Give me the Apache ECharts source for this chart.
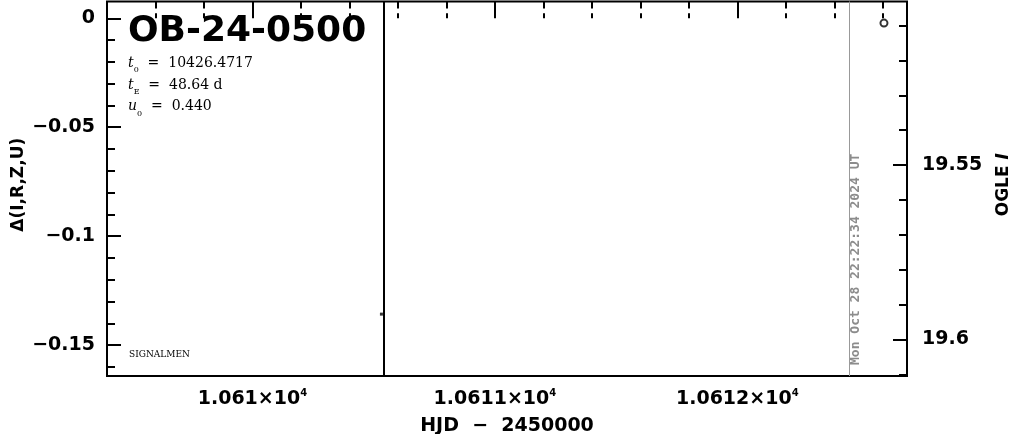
<!DOCTYPE html>
<html><head><meta charset="utf-8">
<script src="https://cdn.jsdelivr.net/npm/echarts@6/dist/echarts.min.js"></script>
<style>html,body{margin:0;padding:0;background:#fff}#c{width:1011px;height:434px}</style>
</head><body><div id="c"></div>
<script>
// ---- texts ----
const eventName = 'OB-24-0500';
const t0Text = '10426.4717';
const tEText = '48.64 d';
const u0Text = '0.440';
const stampText = 'Mon Oct 28 22:22:34 2024 UT';
const creditText = 'SIGNALMEN';
const xName = 'HJD  \u2212  2450000';
const leftName = '\u0394(I,R,Z,U)';

// ---- axis ranges and ticks ----
const xRange = [10609.4, 10612.7];
const leftRange = [-0.1642, 0.0077];
const rightRange = [19.5031, 19.6105];
const xMajorTicks = [10610, 10611, 10612];
const xMinorTicks = [10609.6, 10609.8, 10610.2, 10610.4, 10610.6, 10610.8, 10611.2, 10611.4, 10611.6, 10611.8, 10612.2, 10612.4, 10612.6];
const leftMajorTicks = [0, -0.05, -0.1, -0.15];
const leftMinorTicks = [-0.01, -0.02, -0.03, -0.04, -0.06, -0.07, -0.08, -0.09, -0.11, -0.12, -0.13, -0.14, -0.16];
const rightMajorTicks = [19.55, 19.6];
const rightMinorTicks = [19.51, 19.52, 19.53, 19.54, 19.56, 19.57, 19.58, 19.59, 19.61];

// ---- data ----
const obsHJD = [10612.605];
const obsDelta = [-0.0022];
const markHJD = [10610.532];
const markDelta = [-0.1358];
const nowLineHJD = 10610.539;
const stampLineHJD = 10612.456;

const F = 'DejaVu Sans';
const tickLine = {color: '#000', width: 2};
const labelFont = {fontFamily: F, fontWeight: 'bold', fontSize: 19, color: '#000'};

function xAx(pos, ticks, len, withLabels) {
  return {
    type: 'value', position: pos, min: xRange[0], max: xRange[1],
    axisLine: {show: false}, splitLine: {show: false},
    axisTick: {show: true, inside: true, length: len, lineStyle: tickLine, customValues: ticks},
    axisLabel: withLabels ? {
      show: true, customValues: ticks, margin: 12,
      formatter: v => String(v / 1e4) + '\u00d710{s|4}',
      fontFamily: F, fontWeight: 'bold', fontSize: 19, color: '#000', lineHeight: 22,
      rich: {s: {fontFamily: F, fontWeight: 'bold', fontSize: 10, lineHeight: 15, verticalAlign: 'top', color: '#000'}}
    } : {show: false}
  };
}
function yAx(pos, ticks, len, range, inverse, labelFmt, margin) {
  return {
    type: 'value', position: pos, min: range[0], max: range[1], inverse: inverse,
    axisLine: {show: false}, splitLine: {show: false},
    axisTick: {show: true, inside: true, length: len, lineStyle: tickLine, customValues: ticks},
    axisLabel: labelFmt ? Object.assign({show: true, customValues: ticks, margin: margin, formatter: labelFmt}, labelFont) : {show: false}
  };
}

const xAxes = [
  Object.assign(xAx('bottom', xMajorTicks, 14, true), {
    name: xName, nameLocation: 'middle', nameGap: 41,
    nameTextStyle: {fontFamily: F, fontWeight: 'bold', fontSize: 19, color: '#000'}
  }),
  xAx('bottom', xMinorTicks, 5, false),
  xAx('top', xMajorTicks, 14, false),
  xAx('top', xMinorTicks, 7, false)
];
const yAxes = [
  Object.assign(yAx('left', leftMajorTicks, 14, leftRange, false, v => v === 0 ? '0' : '\u2212' + String(Math.abs(v)), 12), {
    name: leftName, nameLocation: 'middle', nameRotate: 90, nameGap: 80, nameMoveOverlap: false,
    nameTextStyle: {fontFamily: F, fontWeight: 'bold', fontSize: 17, color: '#000', padding: [0, 0, 0, 8]}
  }),
  yAx('left', leftMinorTicks, 8, leftRange, false, null),
  Object.assign(yAx('right', rightMajorTicks, 14, rightRange, true, v => String(v), 15), {
    name: 'OGLE {i|I}', nameLocation: 'middle', nameRotate: 90, nameGap: 88,
    nameTextStyle: {fontFamily: F, fontWeight: 'bold', fontSize: 17, color: '#000', padding: [0, 0, 0, 8],
      rich: {i: {fontFamily: F, fontWeight: 'bold', fontStyle: 'italic', fontSize: 17, color: '#000'}}}
  }),
  yAx('right', rightMinorTicks, 8, rightRange, true, null)
];

const serifRich = {
  it: {fontFamily: 'DejaVu Serif', fontStyle: 'italic', fontSize: 14, lineHeight: 22, color: '#000'},
  sub: {fontFamily: 'DejaVu Serif', fontSize: 8, lineHeight: 10, verticalAlign: 'bottom', color: '#000'},
  n: {fontFamily: 'DejaVu Serif', fontSize: 14, lineHeight: 22, color: '#000'}
};
function paramText(y, sym, sub, val) {
  return {
    type: 'text', x: 128, y: y, silent: true,
    style: {
      text: '{it|' + sym + '}{sub|' + sub + '}{n|  =  ' + val + '}',
      rich: serifRich, fill: '#000',
      align: 'left', verticalAlign: 'middle', textAlign: 'left', textVerticalAlign: 'middle'
    }
  };
}

const option = {
  animation: false,
  backgroundColor: '#fff',
  grid: {left: 107, right: 104, top: 1.5, bottom: 58, show: true, borderColor: '#000', borderWidth: 2,
    backgroundColor: 'transparent', containLabel: false, outerBoundsMode: 'none'},
  xAxis: xAxes,
  yAxis: yAxes,
  series: [
    {
      type: 'scatter', xAxisIndex: 0, yAxisIndex: 0,
      data: obsHJD.map((x, i) => [x, obsDelta[i]]),
      symbol: 'circle', symbolSize: 7,
      itemStyle: {color: '#fff', borderColor: '#000', borderWidth: 2},
      z: 5,
      markLine: {
        silent: true, symbol: 'none', animation: false,
        label: {show: false},
        data: [
          {xAxis: nowLineHJD, lineStyle: {color: '#000', width: 2, type: 'solid'}},
          {xAxis: stampLineHJD, lineStyle: {color: '#999', width: 1, type: 'solid'}}
        ]
      }
    },
    {
      type: 'scatter', xAxisIndex: 0, yAxisIndex: 0,
      data: markHJD.map((x, i) => [x, markDelta[i]]),
      symbol: 'rect', symbolSize: 3,
      itemStyle: {color: '#000'}
    }
  ],
  graphic: [
    {type: 'text', x: 128, y: 32, silent: true,
      style: {text: eventName, font: 'bold 36px "DejaVu Sans"', fill: '#000',
        align: 'left', verticalAlign: 'middle', textAlign: 'left', textVerticalAlign: 'middle'}},
    paramText(63, 't', '0', t0Text),
    paramText(85, 't', 'E', tEText),
    paramText(106.5, 'u', '0', u0Text),
    {type: 'text', x: 129, y: 355, silent: true,
      style: {text: creditText, font: '9px "DejaVu Serif"', fill: '#000',
        align: 'left', verticalAlign: 'middle', textAlign: 'left', textVerticalAlign: 'middle'}},
    {type: 'text', x: 855.5, y: 365, rotation: Math.PI / 2, silent: true,
      style: {text: stampText, font: 'bold 13px "DejaVu Sans Mono"', fill: '#8c8c8c',
        align: 'left', verticalAlign: 'middle', textAlign: 'left', textVerticalAlign: 'middle'}}
  ]
};

const chart = echarts.init(document.getElementById('c'), null, {renderer: 'canvas'});
chart.setOption(option);
</script>
</body></html>
